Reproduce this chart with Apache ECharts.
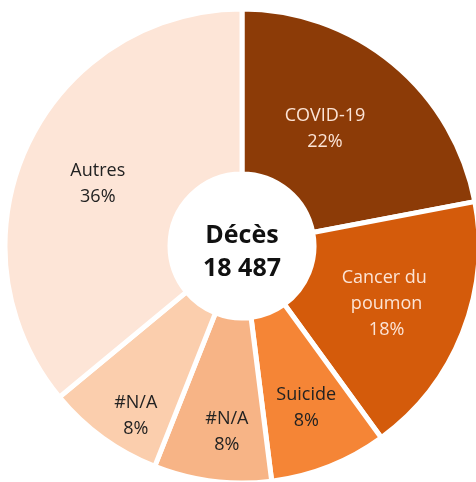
<!DOCTYPE html>
<html><head><meta charset="utf-8">
<script src="https://cdn.jsdelivr.net/npm/echarts@6/dist/echarts.min.js"></script>
<style>html,body{margin:0;padding:0;background:#fff}#c{width:476px;height:482px}</style>
</head><body><div id="c"></div>
<script>
const categories = ['COVID-19', 'Cancer du poumon', 'Suicide', '#N/A', '#N/A', 'Autres'];
const values = [22, 18, 8, 8, 8, 36];
const colors = ['#8C3B07', '#D45B0B', '#F58536', '#F7B486', '#FBCEAD', '#FDE5D7'];
const labelColors = ['#FCE4D6', '#FCE4D6', '#222222', '#222222', '#222222', '#222222'];
// radial label shift (px) relative to the ring's mid-radius, plus a small nudge, to mimic the original placement
const labelShift = [-10, -2, 17, 19, 42, 3];
const labelNudge = [[-11, -3], [0, 1], [0, 0], [7, 11], [11, 8], [1, 6]];
const centerTitle = 'Décès';
const centerValue = '18 487';

const total = values.reduce((a, b) => a + b, 0);
let cum = 0;
const data = categories.map((c, i) => {
  const mid = (cum + values[i] / 2) / total * 2 * Math.PI;
  cum += values[i];
  const s = labelShift[i];
  return {
    id: 'item' + i,
    name: c, value: values[i],
    itemStyle: { color: colors[i] },
    label: {
      color: labelColors[i],
      offset: [Math.sin(mid) * s + labelNudge[i][0], -Math.cos(mid) * s + labelNudge[i][1]]
    }
  };
});

const chart = echarts.init(document.getElementById('c'), null, {renderer: 'canvas'});
chart.setOption({
  animation: false,
  series: [{
    type: 'pie',
    center: [242, 246],
    radius: [72, 237],
    startAngle: 90,
    clockwise: true,
    avoidLabelOverlap: false,
    itemStyle: { borderColor: '#fff', borderWidth: 5 },
    label: {
      position: 'inside',
      formatter: '{b}\n{d}%',
      fontFamily: 'Open Sans',
      fontSize: 18,
      lineHeight: 26,
      width: 110,
      overflow: 'break'
    },
    labelLayout: { hideOverlap: false },
    emphasis: { disabled: true },
    data: data
  }],
  graphic: [{
    type: 'text',
    x: 242, y: 252,
    style: {
      text: centerTitle + '\n' + centerValue,
      align: 'center', verticalAlign: 'middle',
      fontFamily: 'Open Sans', fontWeight: 'bold', fontSize: 25,
      lineHeight: 33, fill: '#111'
    }
  }]
});
</script></body></html>
